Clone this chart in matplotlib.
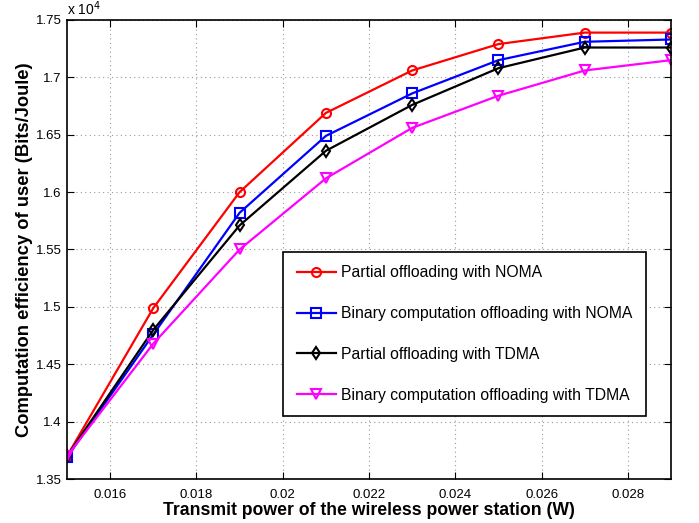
import numpy as np
import matplotlib
matplotlib.use('Agg')
import matplotlib.pyplot as plt
from matplotlib.ticker import FormatStrFormatter

plt.rcParams['font.family'] = ['Liberation Sans', 'DejaVu Sans']

# data (y in units of 10^4 Bits/Joule)
power = [0.015, 0.017, 0.019, 0.021, 0.023, 0.025, 0.027, 0.029]
partial_noma = [1.370, 1.499, 1.600, 1.669, 1.706, 1.729, 1.739, 1.739]
binary_noma = [1.369, 1.476, 1.582, 1.649, 1.686, 1.715, 1.731, 1.733]
partial_tdma = [1.370, 1.480, 1.571, 1.636, 1.676, 1.708, 1.726, 1.726]
binary_tdma = [1.370, 1.468, 1.550, 1.612, 1.656, 1.684, 1.706, 1.715]

labels = ['Partial offloading with NOMA',
          'Binary computation offloading with NOMA',
          'Partial offloading with TDMA',
          'Binary computation offloading with TDMA']
xticks = [0.016, 0.018, 0.02, 0.022, 0.024, 0.026, 0.028]
yticks = [1.35, 1.4, 1.45, 1.5, 1.55, 1.6, 1.65, 1.7, 1.75]

fig = plt.figure(figsize=(6.99, 5.23), dpi=100)
ax = fig.add_axes([0.0959, 0.0841, 0.8641, 0.8777])

ax.plot(power, partial_noma, color='red', marker='o', mfc='none', mew=1.5,
        ms=6.5, lw=1.6, label=labels[0])
ax.plot(power, binary_noma, color='blue', marker='s', mfc='none', mew=1.5,
        ms=6.5, lw=1.6, label=labels[1])
ax.plot(power, partial_tdma, color='black', marker='d', mfc='none', mew=1.5,
        ms=6.5, lw=1.6, label=labels[2])
ax.plot(power, binary_tdma, color='magenta', marker='v', mfc='none', mew=1.5,
        ms=7.5, lw=1.6, label=labels[3])

ax.set_xlim(0.015, 0.029)
ax.set_ylim(1.35, 1.75)
ax.set_xticks(xticks)
ax.set_yticks(yticks)
ax.xaxis.set_major_formatter(FormatStrFormatter('%g'))
ax.yaxis.set_major_formatter(FormatStrFormatter('%g'))
ax.tick_params(direction='in', top=True, right=True, labelsize=9.5, length=5)
ax.tick_params(axis='x', pad=7)
ax.tick_params(axis='y', pad=4)
ax.grid(True, linestyle=(0, (1, 3)), color='#999999', lw=0.8)
for s in ax.spines.values():
    s.set_linewidth(1.2)

ax.text(0.0, 1.004, r'x 10$^4$', transform=ax.transAxes, fontsize=10,
        ha='left', va='bottom')

ax.set_xlabel('Transmit power of the wireless power station (W)',
              fontsize=12.7, fontweight='bold', labelpad=1)
ax.set_ylabel('Computation efficiency of user (Bits/Joule)',
              fontsize=13.2, fontweight='bold', labelpad=2)

leg = ax.legend(loc='lower left', bbox_to_anchor=(0.358, 0.137), fontsize=11.3,
                labelspacing=1.65, handlelength=2.5, handletextpad=0.35,
                borderpad=0.85, borderaxespad=0,
                fancybox=False, framealpha=1, edgecolor='black')
leg.get_frame().set_linewidth(1.2)

fig.savefig('out.png', dpi=100)
